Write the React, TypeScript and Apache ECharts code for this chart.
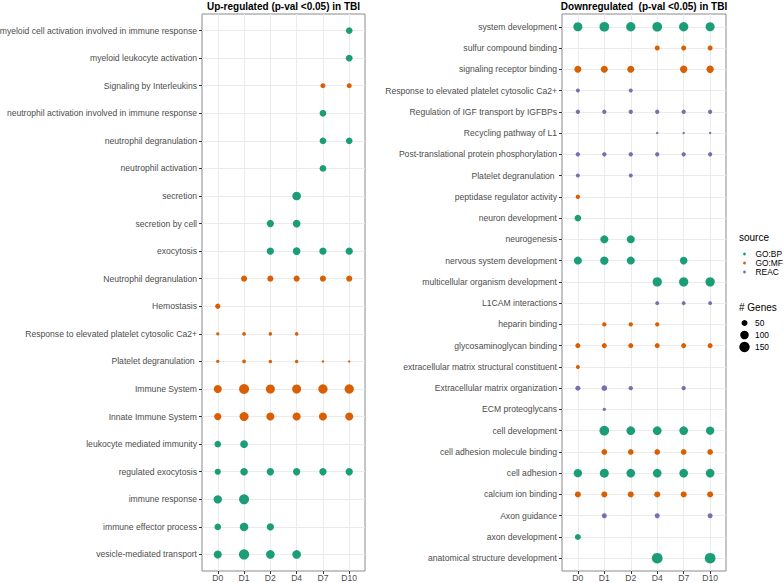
import React, { useEffect, useRef } from 'react';
import * as echarts from 'echarts';

const days = ['D0', 'D1', 'D2', 'D4', 'D7', 'D10'];

const upTitle = 'Up-regulated (p-val <0.05) in TBI';
const downTitle = 'Downregulated  (p-val <0.05) in TBI';

const upTerms = [
  'myeloid cell activation involved in immune response',
  'myeloid leukocyte activation',
  'Signaling by Interleukins',
  'neutrophil activation involved in immune response',
  'neutrophil degranulation',
  'neutrophil activation',
  'secretion',
  'secretion by cell',
  'exocytosis',
  'Neutrophil degranulation',
  'Hemostasis',
  'Response to elevated platelet cytosolic Ca2+',
  'Platelet degranulation ',
  'Immune System',
  'Innate Immune System',
  'leukocyte mediated immunity',
  'regulated exocytosis',
  'immune response',
  'immune effector process',
  'vesicle-mediated transport',
];
const upSource = [
  'GO:BP', 'GO:BP', 'REAC', 'GO:BP', 'GO:BP', 'GO:BP', 'GO:BP', 'GO:BP', 'GO:BP', 'REAC',
  'REAC', 'REAC', 'REAC', 'REAC', 'REAC', 'GO:BP', 'GO:BP', 'GO:BP', 'GO:BP', 'GO:BP',
];
const _ = null;
// gene counts per day (D0, D1, D2, D4, D7, D10)
const upGenes: (number | null)[][] = [
  [_, _, _, _, _, 62],
  [_, _, _, _, _, 66],
  [_, _, _, _, 35, 35],
  [_, _, _, _, 62, _],
  [_, _, _, _, 62, 62],
  [_, _, _, _, 62, _],
  [_, _, _, 104, _, _],
  [_, _, 74, 84, _, _],
  [_, _, 74, 80, 74, 74],
  [_, 52, 52, 52, 52, 52],
  [39, _, _, _, _, _],
  [15, 20, 17, 17, _, _],
  [15, 20, 17, 17, 8, 8],
  [89, 138, 112, 112, 120, 120],
  [74, 112, 89, 89, 89, 89],
  [60, 85, _, _, _, _],
  [52, 80, 74, 74, 74, 74],
  [96, 138, _, _, _, _],
  [60, 100, 74, _, _, _],
  [89, 147, 104, 104, _, _],
];

const downTerms = [
  'system development',
  'sulfur compound binding',
  'signaling receptor binding',
  'Response to elevated platelet cytosolic Ca2+',
  'Regulation of IGF transport by IGFBPs',
  'Recycling pathway of L1',
  'Post-translational protein phosphorylation',
  'Platelet degranulation ',
  'peptidase regulator activity',
  'neuron development',
  'neurogenesis',
  'nervous system development',
  'multicellular organism development',
  'L1CAM interactions',
  'heparin binding',
  'glycosaminoglycan binding',
  'extracellular matrix structural constituent',
  'Extracellular matrix organization',
  'ECM proteoglycans',
  'cell development',
  'cell adhesion molecule binding',
  'cell adhesion',
  'calcium ion binding',
  'Axon guidance',
  'axon development',
  'anatomical structure development',
];
const downSource = [
  'GO:BP', 'GO:MF', 'GO:MF', 'REAC', 'REAC', 'REAC', 'REAC', 'REAC', 'GO:MF', 'GO:BP',
  'GO:BP', 'GO:BP', 'GO:BP', 'REAC', 'GO:MF', 'GO:MF', 'GO:MF', 'REAC', 'REAC', 'GO:BP',
  'GO:MF', 'GO:BP', 'GO:MF', 'REAC', 'GO:BP', 'GO:BP',
];
const downGenes: (number | null)[][] = [
  [112, 130, 120, 130, 120, 112],
  [_, _, _, 35, 35, 35],
  [68, 68, 68, _, 74, 74],
  [22, _, 22, _, _, _],
  [26, 26, 26, 26, 26, 26],
  [_, _, _, 8, 8, 8],
  [26, 26, 26, 26, 26, 26],
  [22, _, 22, _, _, _],
  [27, _, _, _, _, _],
  [62, _, _, _, _, _],
  [_, 89, 89, _, _, _],
  [89, 96, 89, _, 80, _],
  [_, _, _, 120, 120, 120],
  [_, _, _, 22, 22, 22],
  [_, 26, 26, 26, _, _],
  [35, 35, 35, 35, 35, 35],
  [22, _, _, _, _, _],
  [35, 44, 26, _, 26, _],
  [_, 15, _, _, _, _],
  [_, 130, 104, 104, 104, 96],
  [_, 44, 44, 44, 44, 44],
  [96, 112, 104, 104, 104, 104],
  [50, 50, 50, 50, 50, 50],
  [_, 35, _, 35, _, 35],
  [50, _, _, _, _, _],
  [_, _, _, 158, _, 158],
];

const legendSources = ['GO:BP', 'GO:MF', 'REAC'];
const legendSizes = [50, 100, 150];

const TEAL = '#1B9E77';
const ORANGE = '#D95F02';
const PURPLE = '#7570B3';
const upColors: Record<string, string> = { 'GO:BP': TEAL, REAC: ORANGE };
const downColors: Record<string, string> = { 'GO:BP': TEAL, 'GO:MF': ORANGE, REAC: PURPLE };

const FONT = 'Liberation Sans';
const AXIS_FS = 8.6;
const sizeOf = (g: number) => 0.85 * Math.sqrt(g);
const range = (n: number) => Array.from({ length: n }, (_v, i) => i);

function buildSeries(
  sources: string[],
  genes: (number | null)[][],
  idx: number,
  colors: Record<string, string>
) {
  const groups: Record<string, number[][]> = {};
  genes.forEach((row, yi) =>
    row.forEach((g, xi) => {
      if (g != null) {
        (groups[sources[yi]] = groups[sources[yi]] || []).push([xi, yi, g]);
      }
    })
  );
  return Object.keys(groups).map((src) => ({
    type: 'scatter',
    name: src,
    xAxisIndex: idx,
    yAxisIndex: idx,
    data: groups[src],
    symbol: 'circle',
    symbolSize: (v: number[]) => sizeOf(v[2]),
    itemStyle: { color: colors[src], opacity: 1 },
    silent: true,
    z: 3,
  }));
}

function gridLineSeries(idx: number, nx: number, ny: number) {
  return {
    type: 'scatter',
    xAxisIndex: idx,
    yAxisIndex: idx,
    data: [],
    silent: true,
    z: 1,
    markLine: {
      silent: true,
      z: 1,
      symbol: ['none', 'none'],
      label: { show: false },
      emphasis: { disabled: true },
      lineStyle: { color: '#ebebeb', width: 1, type: 'solid' },
      data: [...range(nx).map((i) => ({ xAxis: i })), ...range(ny).map((i) => ({ yAxis: i }))],
    },
  };
}

function xAxisFor(idx: number) {
  const vals = range(days.length);
  return {
    gridIndex: idx,
    type: 'value',
    min: -0.6,
    max: days.length - 0.4,
    axisLine: { show: false, onZero: false },
    axisTick: { show: true, length: 3, customValues: vals, lineStyle: { color: '#333', width: 1 } },
    axisLabel: {
      customValues: vals,
      formatter: (v: number) => days[Math.round(v)] ?? '',
      color: '#4d4d4d',
      fontSize: AXIS_FS,
      fontFamily: FONT,
      margin: 2,
    },
    splitLine: { show: false },
  };
}

function yAxisFor(idx: number, terms: string[]) {
  const vals = range(terms.length);
  return {
    gridIndex: idx,
    type: 'value',
    inverse: true,
    min: -0.6,
    max: terms.length - 0.4,
    axisLine: { show: false, onZero: false },
    axisTick: { show: true, length: 3, customValues: vals, lineStyle: { color: '#333', width: 1 } },
    axisLabel: {
      customValues: vals,
      formatter: (v: number) => terms[Math.round(v)] ?? '',
      color: '#4d4d4d',
      fontSize: AXIS_FS,
      fontFamily: FONT,
      margin: 5,
    },
    splitLine: { show: false },
  };
}

export default function App() {
  const ref = useRef<HTMLDivElement>(null);
  useEffect(() => {
    document.body.style.margin = '0';
    const chart = echarts.init(ref.current!, null, { renderer: 'svg' });
    const legendGraphics: any[] = [
      {
        type: 'text',
        x: 739,
        y: 237,
        style: { text: 'source', fontSize: 10, fontFamily: FONT, fill: '#000', align: 'left', verticalAlign: 'middle' },
      },
      ...legendSources.flatMap((s, i) => [
        { type: 'circle', shape: { cx: 744.5, cy: 254 + i * 9, r: 1.4 }, style: { fill: downColors[s] } },
        {
          type: 'text',
          x: 755.5,
          y: 254 + i * 9,
          style: { text: s, fontSize: 8.4, fontFamily: FONT, fill: '#000', align: 'left', verticalAlign: 'middle' },
        },
      ]),
      {
        type: 'text',
        x: 739,
        y: 307,
        style: { text: '# Genes', fontSize: 10, fontFamily: FONT, fill: '#000', align: 'left', verticalAlign: 'middle' },
      },
      ...legendSizes.flatMap((g, i) => [
        { type: 'circle', shape: { cx: 744.5, cy: 323 + i * 12, r: sizeOf(g) / 2 }, style: { fill: '#000' } },
        {
          type: 'text',
          x: 755,
          y: 323 + i * 12,
          style: { text: String(g), fontSize: 8.4, fontFamily: FONT, fill: '#000', align: 'left', verticalAlign: 'middle' },
        },
      ]),
      {
        type: 'text',
        x: 283.5,
        y: 6,
        style: { text: upTitle, fontSize: 10, fontWeight: 'bold', fontFamily: FONT, fill: '#000', align: 'center', verticalAlign: 'middle' },
      },
      {
        type: 'text',
        x: 644,
        y: 6,
        style: { text: downTitle, fontSize: 10, fontWeight: 'bold', fontFamily: FONT, fill: '#000', align: 'center', verticalAlign: 'middle' },
      },
    ];
    const option: any = {
      animation: false,
      textStyle: { fontFamily: FONT },
      grid: [
        { left: 202, top: 14, width: 163, height: 557, show: true, borderColor: '#8a8a8a', borderWidth: 1, backgroundColor: 'transparent', outerBoundsMode: 'none', containLabel: false },
        { left: 562, top: 14, width: 164, height: 557, show: true, borderColor: '#8a8a8a', borderWidth: 1, backgroundColor: 'transparent', outerBoundsMode: 'none', containLabel: false },
      ],
      xAxis: [xAxisFor(0), xAxisFor(1)],
      yAxis: [yAxisFor(0, upTerms), yAxisFor(1, downTerms)],
      series: [
        gridLineSeries(0, days.length, upTerms.length),
        gridLineSeries(1, days.length, downTerms.length),
        ...buildSeries(upSource, upGenes, 0, upColors),
        ...buildSeries(downSource, downGenes, 1, downColors),
      ],
      graphic: legendGraphics,
    };
    chart.setOption(option);
    return () => chart.dispose();
  }, []);
  return <div ref={ref} style={{ width: 784, height: 583 }} />;
}
